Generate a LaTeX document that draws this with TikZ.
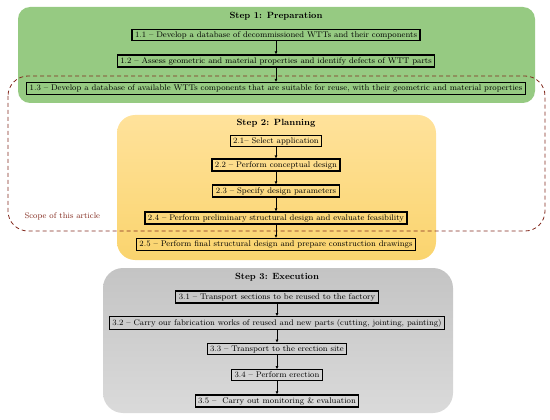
\documentclass[tikz,border=0pt]{standalone}
\usetikzlibrary{arrows.meta}
\definecolor{prepgreen}{RGB}{150,202,130}
\definecolor{plantop}{RGB}{255,226,155}
\definecolor{planbot}{RGB}{250,212,110}
\definecolor{exectop}{RGB}{196,196,196}
\definecolor{execbot}{RGB}{218,218,218}
\definecolor{scopered}{RGB}{130,42,30}
\tikzset{
  stepbox/.style={draw=black,line width=1.2pt,inner xsep=3pt,inner ysep=2.2pt,
    font=\fontsize{8.2}{9}\selectfont},
  steptitle/.style={font=\fontsize{9}{11}\selectfont\bfseries},
  flow/.style={draw=black,thick,-{Latex[length=3pt,width=3pt]}}
}
\begin{document}
\begin{tikzpicture}[x=1pt,y=-1pt]
        \useasboundingbox (0,0) rectangle (550,420);
        % backgrounds of the three steps
        \fill[prepgreen,rounded corners=12pt] (18,7) rectangle (535,103);
        \shade[top color=plantop,bottom color=planbot,rounded corners=18pt] (117,115) rectangle (436,260);
        \shade[top color=exectop,bottom color=execbot,rounded corners=20pt] (103,268) rectangle (453,413);
        % scope of the article
        \draw[scopered,thick,dashed,dash pattern=on 4pt off 3pt,rounded corners=20pt] (8,76) rectangle (545,231);
        \node[scopered,font=\fontsize{8.2}{9}\selectfont,anchor=west] (scope) at (21,216) {Scope of this article};
        \begin{scope}
            \node[steptitle] (t1) at (276,16) {Step 1: Preparation};
            \begin{scope}[every node/.style={stepbox}]
              \node (a1) at (276,35) {1.1 -- Develop a database of decommissioned WTTs and their components};
              \node (a2) at (276,61) {1.2 -- Assess geometric and material properties and identify defects of WTT parts};
              \node (a3) at (276,88.5) {1.3 -- Develop a database of available WTTs components that are suitable for reuse, with their geometric and material properties};
            \end{scope}
            \begin{scope}[every edge/.style={flow}]
                \path (a1) edge (a2)
                      (a2) edge (a3);
            \end{scope}
        \end{scope}
        \begin{scope}
            \node[steptitle] (t2) at (276,123) {Step 2: Planning};
            \begin{scope}[every node/.style={stepbox}]
              \node (b1) at (276,141) {2.1-- Select application};
              \node (b2) at (276,165) {2.2 -- Perform conceptual design};
              \node (b3) at (276,191) {2.3 -- Specify design parameters};
              \node (b4) at (276,218) {2.4 -- Perform preliminary structural design and evaluate feasibility};
              \node (b5) at (276,244.5) {2.5 -- Perform final structural design and prepare construction drawings};
            \end{scope}
            \begin{scope}[every edge/.style={flow}]
                \path (b1) edge (b2)
                      (b2) edge (b3)
                      (b3) edge (b4)
                      (b4) edge (b5);
            \end{scope}
        \end{scope}
        \begin{scope}
            \node[steptitle] (t3) at (277,277) {Step 3: Execution};
            \begin{scope}[every node/.style={stepbox}]
              \node (c1) at (277,297) {3.1 -- Transport sections to be reused to the factory};
              \node (c2) at (277,323) {3.2 -- Carry our fabrication works of reused and new parts (cutting, jointing, painting)};
              \node (c3) at (277,349) {3.3 -- Transport to the erection site};
              \node (c4) at (277,375) {3.4 -- Perform erection};
              \node (c5) at (277,401) {3.5 --\ \ Carry out monitoring \& evaluation};
            \end{scope}
            \begin{scope}[every edge/.style={flow}]
                \path (c1) edge (c2)
                      (c2) edge (c3)
                      (c3) edge (c4)
                      (c4) edge (c5);
            \end{scope}
        \end{scope}
\end{tikzpicture}
\end{document}
